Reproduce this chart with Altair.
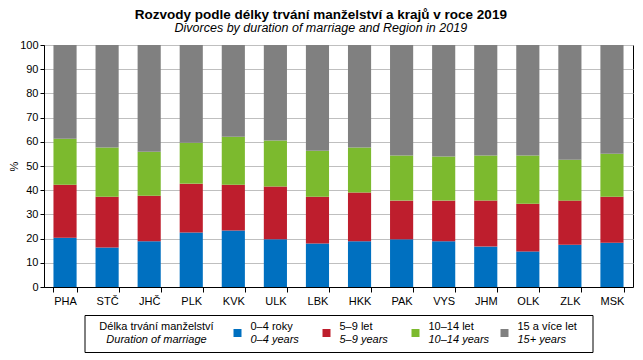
import altair as alt
import pandas as pd

regions = ["PHA", "STČ", "JHČ", "PLK", "KVK", "ULK", "LBK", "HKK", "PAK", "VYS", "JHM", "OLK", "ZLK", "MSK"]
dur_0_4 = [20.4, 16.3, 18.9, 22.5, 23.3, 19.7, 18.0, 18.9, 19.7, 18.9, 16.7, 14.7, 17.5, 18.3]
dur_5_9 = [21.9, 21.0, 18.8, 20.2, 19.0, 21.8, 19.3, 20.1, 16.0, 16.8, 19.0, 19.7, 18.2, 19.0]
dur_10_14 = [19.0, 20.3, 18.2, 16.9, 19.8, 19.0, 19.0, 18.6, 18.6, 18.2, 18.6, 19.9, 16.9, 17.8]
dur_15_plus = [38.7, 42.4, 44.1, 40.4, 37.9, 39.5, 43.7, 42.4, 45.7, 46.1, 45.7, 45.7, 47.4, 44.9]

cat_keys = ["0–4 roky", "5–9 let", "10–14 let", "15 a více let"]
cat_en = ["0–4 years", "5–9 years", "10–14 years", "15+ years"]
colors = ["#0070c0", "#be1e2d", "#7cba2e", "#808080"]

series = [dur_0_4, dur_5_9, dur_10_14, dur_15_plus]
rows = []
for ci, (k, vals) in enumerate(zip(cat_keys, series)):
    for r, v in zip(regions, vals):
        rows.append({"region": r, "cat": k, "value": v, "ord": ci})
df = pd.DataFrame(rows)

FONT = "Liberation Sans"

bars = alt.Chart(df).mark_bar().encode(
    x=alt.X("region:N", sort=regions, title=None,
            scale=alt.Scale(paddingInner=0.45, paddingOuter=0.225),
            axis=alt.Axis(labelAngle=0, tickBand="extent", labelFontSize=11,
                          labelColor="black", domainColor="black", tickColor="black",
                          tickSize=5, labelPadding=3, grid=False)),
    y=alt.Y("value:Q", stack="zero", title="%",
            scale=alt.Scale(domain=[0, 100], nice=False),
            axis=alt.Axis(values=list(range(0, 101, 10)), labelFontSize=11,
                          labelColor="black", domainColor="black", tickColor="black",
                          tickSize=4, labelPadding=2, gridColor="#bfbfbf",
                          titleFontSize=11, titleFontWeight="normal", titleColor="black",
                          titlePadding=0)),
    color=alt.Color("cat:N", sort=cat_keys,
                    scale=alt.Scale(domain=cat_keys, range=colors), legend=None),
    order=alt.Order("ord:Q", sort="ascending"),
).properties(width=589, height=242)

leg_df = pd.DataFrame({"cat": cat_keys, "en": cat_en})
xs = alt.X("cat:N", sort=cat_keys, axis=None,
           scale=alt.Scale(type="point", domain=cat_keys, range=[153, 420], padding=0))
sq = alt.Chart(leg_df).mark_square(size=64, opacity=1).encode(
    x=xs, y=alt.value(18),
    color=alt.Color("cat:N", scale=alt.Scale(domain=cat_keys, range=colors), legend=None))
t1 = alt.Chart(leg_df).mark_text(align="left", baseline="middle", dx=13, fontSize=11,
                                 font=FONT, color="black").encode(x=xs, y=alt.value(12), text="cat:N")
t2 = alt.Chart(leg_df).mark_text(align="left", baseline="middle", dx=13, fontSize=11,
                                 font=FONT, fontStyle="italic", color="black").encode(
    x=xs, y=alt.value(25), text="en:N")
head_df = pd.DataFrame({"l1": ["Délka trvání manželství"], "l2": ["Duration of marriage"]})
h1 = alt.Chart(head_df).mark_text(align="center", baseline="middle", fontSize=11, font=FONT,
                                  color="black").encode(x=alt.value(72), y=alt.value(12), text="l1:N")
h2 = alt.Chart(head_df).mark_text(align="center", baseline="middle", fontSize=11, font=FONT,
                                  fontStyle="italic", color="black").encode(
    x=alt.value(72), y=alt.value(25), text="l2:N")
legend = alt.layer(sq, t1, t2, h1, h2).properties(width=508, height=37)

chart = alt.vconcat(bars, legend, spacing=28, center=True, bounds="flush").properties(
    title=alt.TitleParams(
        text="Rozvody podle délky trvání manželství a krajů v roce 2019",
        subtitle="Divorces by duration of marriage and Region in 2019",
        fontSize=13.5, fontWeight="bold", font=FONT, color="black",
        subtitleFontSize=12.5, subtitleFont=FONT, subtitleFontStyle="italic",
        subtitleColor="black", anchor="middle", offset=4, subtitlePadding=1),
).configure(font=FONT, padding={"left": 0, "top": -1, "right": 1, "bottom": 0}).configure_view(
    stroke="black", strokeWidth=1
).configure_axis(labelFont=FONT, titleFont=FONT)

chart.save("out.html", embed_options={"renderer": "svg", "actions": False})
